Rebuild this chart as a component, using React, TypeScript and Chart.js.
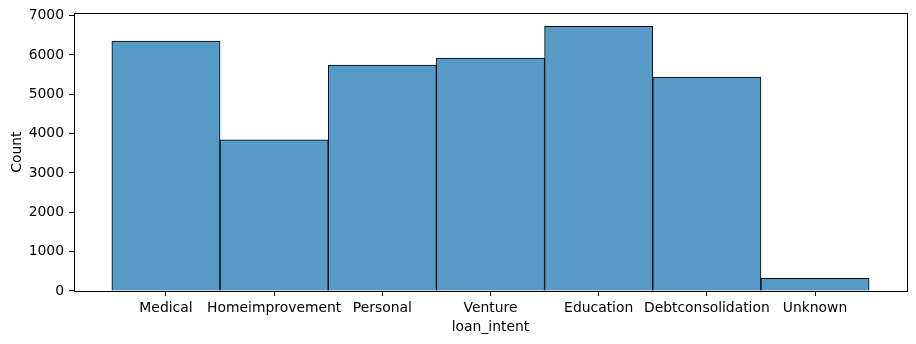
import React, { useEffect, useRef } from "react";
import { Chart, registerables } from "chart.js";

Chart.register(...registerables);

const categories = ["Medical", "Homeimprovement", "Personal", "Venture", "Education", "Debtconsolidation", "Unknown"];
const counts = [6350, 3840, 5740, 5918, 6728, 5436, 322];
const yTicks = [0, 1000, 2000, 3000, 4000, 5000, 6000, 7000];

const FONT = "'DejaVu Sans', sans-serif";

const framePlugin = {
  id: "frame",
  afterDraw(chart: any) {
    const { ctx, chartArea } = chart;
    ctx.save();
    ctx.strokeStyle = "#000";
    ctx.lineWidth = 1;
    ctx.strokeRect(
      Math.round(chartArea.left) + 0.5,
      Math.round(chartArea.top) + 0.5,
      Math.round(chartArea.right - chartArea.left),
      Math.round(chartArea.bottom - chartArea.top)
    );
    ctx.restore();
  },
};

export default function App() {
  const ref = useRef<HTMLCanvasElement | null>(null);
  useEffect(() => {
    if (!ref.current) return;
    const chart = new Chart(ref.current, {
      type: "bar",
      data: {
        datasets: [
          {
            label: "Count",
            data: counts.map((c, i) => ({ x: i, y: c })),
            backgroundColor: "rgb(87,153,199)",
            borderColor: "#000",
            borderWidth: 1,
            barPercentage: 1,
            categoryPercentage: 1,
          },
        ],
      },
      options: {
        animation: false,
        responsive: false,
        maintainAspectRatio: false,
        layout: { padding: { left: 0, right: 9, top: 12, bottom: 0 } },
        plugins: { legend: { display: false }, tooltip: { enabled: false } },
        scales: {
          x: {
            type: "linear",
            min: -0.85,
            max: 6.85,
            offset: false,
            afterBuildTicks: (s: any) => {
              s.ticks = categories.map((_, i) => ({ value: i }));
            },
            afterFit: (s: any) => {
              s.height = 344 - 291;
            },
            ticks: {
              autoSkip: false,
              maxRotation: 0,
              color: "#000",
              padding: 4,
              font: { family: FONT, size: 13.9 },
              callback: (v: any) => categories[v] ?? "",
            },
            grid: { display: true, offset: false, drawOnChartArea: false, drawTicks: true, tickLength: 5, color: "#000" },
            border: { display: false },
            title: {
              display: true,
              text: "loan_intent",
              color: "#000",
              font: { family: FONT, size: 13.9 },
              padding: { top: 0, bottom: 8 },
            },
          },
          y: {
            type: "linear",
            min: 0,
            max: 7058,
            afterBuildTicks: (s: any) => {
              s.ticks = yTicks.map((v) => ({ value: v }));
            },
            afterFit: (s: any) => {
              s.width = 74;
            },
            ticks: {
              color: "#000",
              padding: 5,
              font: { family: FONT, size: 13.9 },
              callback: (v: any) => String(v),
            },
            grid: { display: true, drawOnChartArea: false, drawTicks: true, tickLength: 5, color: "#000" },
            border: { display: false },
            title: {
              display: true,
              text: "Count",
              color: "#000",
              font: { family: FONT, size: 13.9 },
              padding: { top: 9, bottom: 0 },
            },
          },
        },
      },
      plugins: [framePlugin],
    });
    return () => chart.destroy();
  }, []);
  return (
    <div style={{ position: "fixed", left: 0, top: 0, width: 916, height: 344, background: "#fff" }}>
      <canvas ref={ref} width={916} height={344} style={{ width: 916, height: 344, display: "block" }} />
    </div>
  );
}
